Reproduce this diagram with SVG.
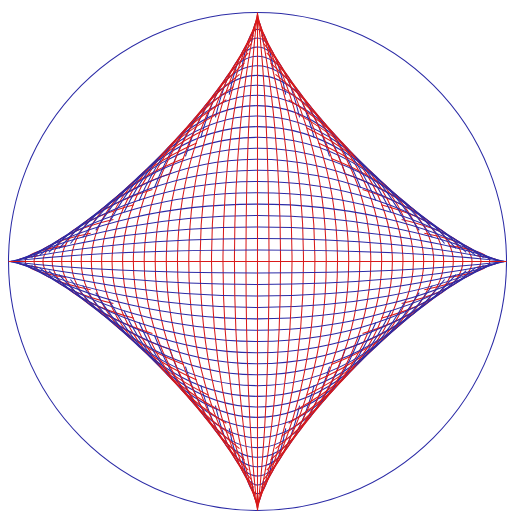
<svg xmlns="http://www.w3.org/2000/svg" width="507" height="516" viewBox="0 0 507 516">
<style>
.r{fill:none;stroke:#d91a1a;stroke-width:0.0042}
.b{fill:none;stroke:#2b2ba6;stroke-width:0.0042}
</style>
<defs>
<path id="p1" d="M0.0001 -0.9974C0.0617 -0.4802 0.0617 0.4802 0.0001 0.9974"/>
<path id="p2" d="M0.0006 -0.9896C0.1232 -0.4765 0.1232 0.4765 0.0006 0.9896"/>
<path id="p3" d="M0.0020 -0.9767C0.1842 -0.4702 0.1842 0.4702 0.0020 0.9767"/>
<path id="p4" d="M0.0046 -0.9586C0.2447 -0.4616 0.2447 0.4616 0.0046 0.9586"/>
<path id="p5" d="M0.0090 -0.9356C0.3043 -0.4505 0.3043 0.4505 0.0090 0.9356"/>
<path id="p6" d="M0.0156 -0.9077C0.3628 -0.4371 0.3628 0.4371 0.0156 0.9077"/>
<path id="p7" d="M0.0248 -0.8752C0.4202 -0.4214 0.4202 0.4214 0.0248 0.8752"/>
<path id="p8" d="M0.0370 -0.8381C0.4760 -0.4035 0.4760 0.4035 0.0370 0.8381"/>
<path id="p9" d="M0.0527 -0.7967C0.5302 -0.3836 0.5302 0.3836 0.0527 0.7967"/>
<path id="p10" d="M0.0723 -0.7512C0.5825 -0.3617 0.5825 0.3617 0.0723 0.7512"/>
<path id="p11" d="M0.0963 -0.7021C0.6327 -0.3380 0.6327 0.3380 0.0963 0.7021"/>
<path id="p12" d="M0.1250 -0.6495C0.6806 -0.3127 0.6806 0.3127 0.1250 0.6495"/>
<path id="p13" d="M0.1589 -0.5940C0.7259 -0.2860 0.7259 0.2860 0.1589 0.5940"/>
<path id="p14" d="M0.1985 -0.5358C0.7686 -0.2580 0.7686 0.2580 0.1985 0.5358"/>
<path id="p15" d="M0.2441 -0.4757C0.8084 -0.2290 0.8084 0.2290 0.2441 0.4757"/>
<path id="p16" d="M0.2963 -0.4141C0.8450 -0.1994 0.8450 0.1994 0.2963 0.4141"/>
<path id="p17" d="M0.3554 -0.3517C0.8783 -0.1693 0.8783 0.1693 0.3554 0.3517"/>
<path id="p18" d="M0.4219 -0.2894C0.9080 -0.1393 0.9080 0.1393 0.4219 0.2894"/>
<path id="p19" d="M0.4962 -0.2280C0.9340 -0.1098 0.9340 0.1098 0.4962 0.2280"/>
<path id="p20" d="M0.5787 -0.1689C0.9559 -0.0813 0.9559 0.0813 0.5787 0.1689"/>
<path id="p21" d="M0.6699 -0.1135C0.9737 -0.0546 0.9737 0.0546 0.6699 0.1135"/>
<path id="p22" d="M0.7703 -0.0638C0.9872 -0.0307 0.9872 0.0307 0.7703 0.0638"/>
<path id="p23" d="M0.8801 -0.0233C0.9960 -0.0112 0.9960 0.0112 0.8801 0.0233"/>
</defs>
<rect width="507" height="516" fill="#fff"/>
<g transform="translate(257.5 261.5) scale(249)">
<circle id="circle" r="1" class="b"/>
<g id="grid">
<use href="#p23" class="r"/><use href="#p23" class="r" transform="scale(-1 1)"/><use href="#p23" class="b" transform="matrix(0 1 1 0 0 0)"/><use href="#p23" class="b" transform="matrix(0 -1 1 0 0 0)"/>
<use href="#p22" class="r"/><use href="#p22" class="r" transform="scale(-1 1)"/><use href="#p22" class="b" transform="matrix(0 1 1 0 0 0)"/><use href="#p22" class="b" transform="matrix(0 -1 1 0 0 0)"/>
<use href="#p21" class="r"/><use href="#p21" class="r" transform="scale(-1 1)"/><use href="#p21" class="b" transform="matrix(0 1 1 0 0 0)"/><use href="#p21" class="b" transform="matrix(0 -1 1 0 0 0)"/>
<use href="#p20" class="r"/><use href="#p20" class="r" transform="scale(-1 1)"/><use href="#p20" class="b" transform="matrix(0 1 1 0 0 0)"/><use href="#p20" class="b" transform="matrix(0 -1 1 0 0 0)"/>
<use href="#p19" class="r"/><use href="#p19" class="r" transform="scale(-1 1)"/><use href="#p19" class="b" transform="matrix(0 1 1 0 0 0)"/><use href="#p19" class="b" transform="matrix(0 -1 1 0 0 0)"/>
<use href="#p18" class="r"/><use href="#p18" class="r" transform="scale(-1 1)"/><use href="#p18" class="b" transform="matrix(0 1 1 0 0 0)"/><use href="#p18" class="b" transform="matrix(0 -1 1 0 0 0)"/>
<use href="#p17" class="r"/><use href="#p17" class="r" transform="scale(-1 1)"/><use href="#p17" class="b" transform="matrix(0 1 1 0 0 0)"/><use href="#p17" class="b" transform="matrix(0 -1 1 0 0 0)"/>
<use href="#p16" class="r"/><use href="#p16" class="r" transform="scale(-1 1)"/><use href="#p16" class="b" transform="matrix(0 1 1 0 0 0)"/><use href="#p16" class="b" transform="matrix(0 -1 1 0 0 0)"/>
<use href="#p15" class="r"/><use href="#p15" class="r" transform="scale(-1 1)"/><use href="#p15" class="b" transform="matrix(0 1 1 0 0 0)"/><use href="#p15" class="b" transform="matrix(0 -1 1 0 0 0)"/>
<use href="#p14" class="r"/><use href="#p14" class="r" transform="scale(-1 1)"/><use href="#p14" class="b" transform="matrix(0 1 1 0 0 0)"/><use href="#p14" class="b" transform="matrix(0 -1 1 0 0 0)"/>
<use href="#p13" class="r"/><use href="#p13" class="r" transform="scale(-1 1)"/><use href="#p13" class="b" transform="matrix(0 1 1 0 0 0)"/><use href="#p13" class="b" transform="matrix(0 -1 1 0 0 0)"/>
<use href="#p12" class="r"/><use href="#p12" class="r" transform="scale(-1 1)"/><use href="#p12" class="b" transform="matrix(0 1 1 0 0 0)"/><use href="#p12" class="b" transform="matrix(0 -1 1 0 0 0)"/>
<use href="#p11" class="r"/><use href="#p11" class="r" transform="scale(-1 1)"/><use href="#p11" class="b" transform="matrix(0 1 1 0 0 0)"/><use href="#p11" class="b" transform="matrix(0 -1 1 0 0 0)"/>
<use href="#p10" class="r"/><use href="#p10" class="r" transform="scale(-1 1)"/><use href="#p10" class="b" transform="matrix(0 1 1 0 0 0)"/><use href="#p10" class="b" transform="matrix(0 -1 1 0 0 0)"/>
<use href="#p9" class="r"/><use href="#p9" class="r" transform="scale(-1 1)"/><use href="#p9" class="b" transform="matrix(0 1 1 0 0 0)"/><use href="#p9" class="b" transform="matrix(0 -1 1 0 0 0)"/>
<use href="#p8" class="r"/><use href="#p8" class="r" transform="scale(-1 1)"/><use href="#p8" class="b" transform="matrix(0 1 1 0 0 0)"/><use href="#p8" class="b" transform="matrix(0 -1 1 0 0 0)"/>
<use href="#p7" class="r"/><use href="#p7" class="r" transform="scale(-1 1)"/><use href="#p7" class="b" transform="matrix(0 1 1 0 0 0)"/><use href="#p7" class="b" transform="matrix(0 -1 1 0 0 0)"/>
<use href="#p6" class="r"/><use href="#p6" class="r" transform="scale(-1 1)"/><use href="#p6" class="b" transform="matrix(0 1 1 0 0 0)"/><use href="#p6" class="b" transform="matrix(0 -1 1 0 0 0)"/>
<use href="#p5" class="r"/><use href="#p5" class="r" transform="scale(-1 1)"/><use href="#p5" class="b" transform="matrix(0 1 1 0 0 0)"/><use href="#p5" class="b" transform="matrix(0 -1 1 0 0 0)"/>
<use href="#p4" class="r"/><use href="#p4" class="r" transform="scale(-1 1)"/><use href="#p4" class="b" transform="matrix(0 1 1 0 0 0)"/><use href="#p4" class="b" transform="matrix(0 -1 1 0 0 0)"/>
<use href="#p3" class="r"/><use href="#p3" class="r" transform="scale(-1 1)"/><use href="#p3" class="b" transform="matrix(0 1 1 0 0 0)"/><use href="#p3" class="b" transform="matrix(0 -1 1 0 0 0)"/>
<use href="#p2" class="r"/><use href="#p2" class="r" transform="scale(-1 1)"/><use href="#p2" class="b" transform="matrix(0 1 1 0 0 0)"/><use href="#p2" class="b" transform="matrix(0 -1 1 0 0 0)"/>
<use href="#p1" class="r"/><use href="#p1" class="r" transform="scale(-1 1)"/><use href="#p1" class="b" transform="matrix(0 1 1 0 0 0)"/><use href="#p1" class="b" transform="matrix(0 -1 1 0 0 0)"/>
<path class="r" d="M0 -1V1M-1 0H1"/>
</g>
</g>
</svg>
